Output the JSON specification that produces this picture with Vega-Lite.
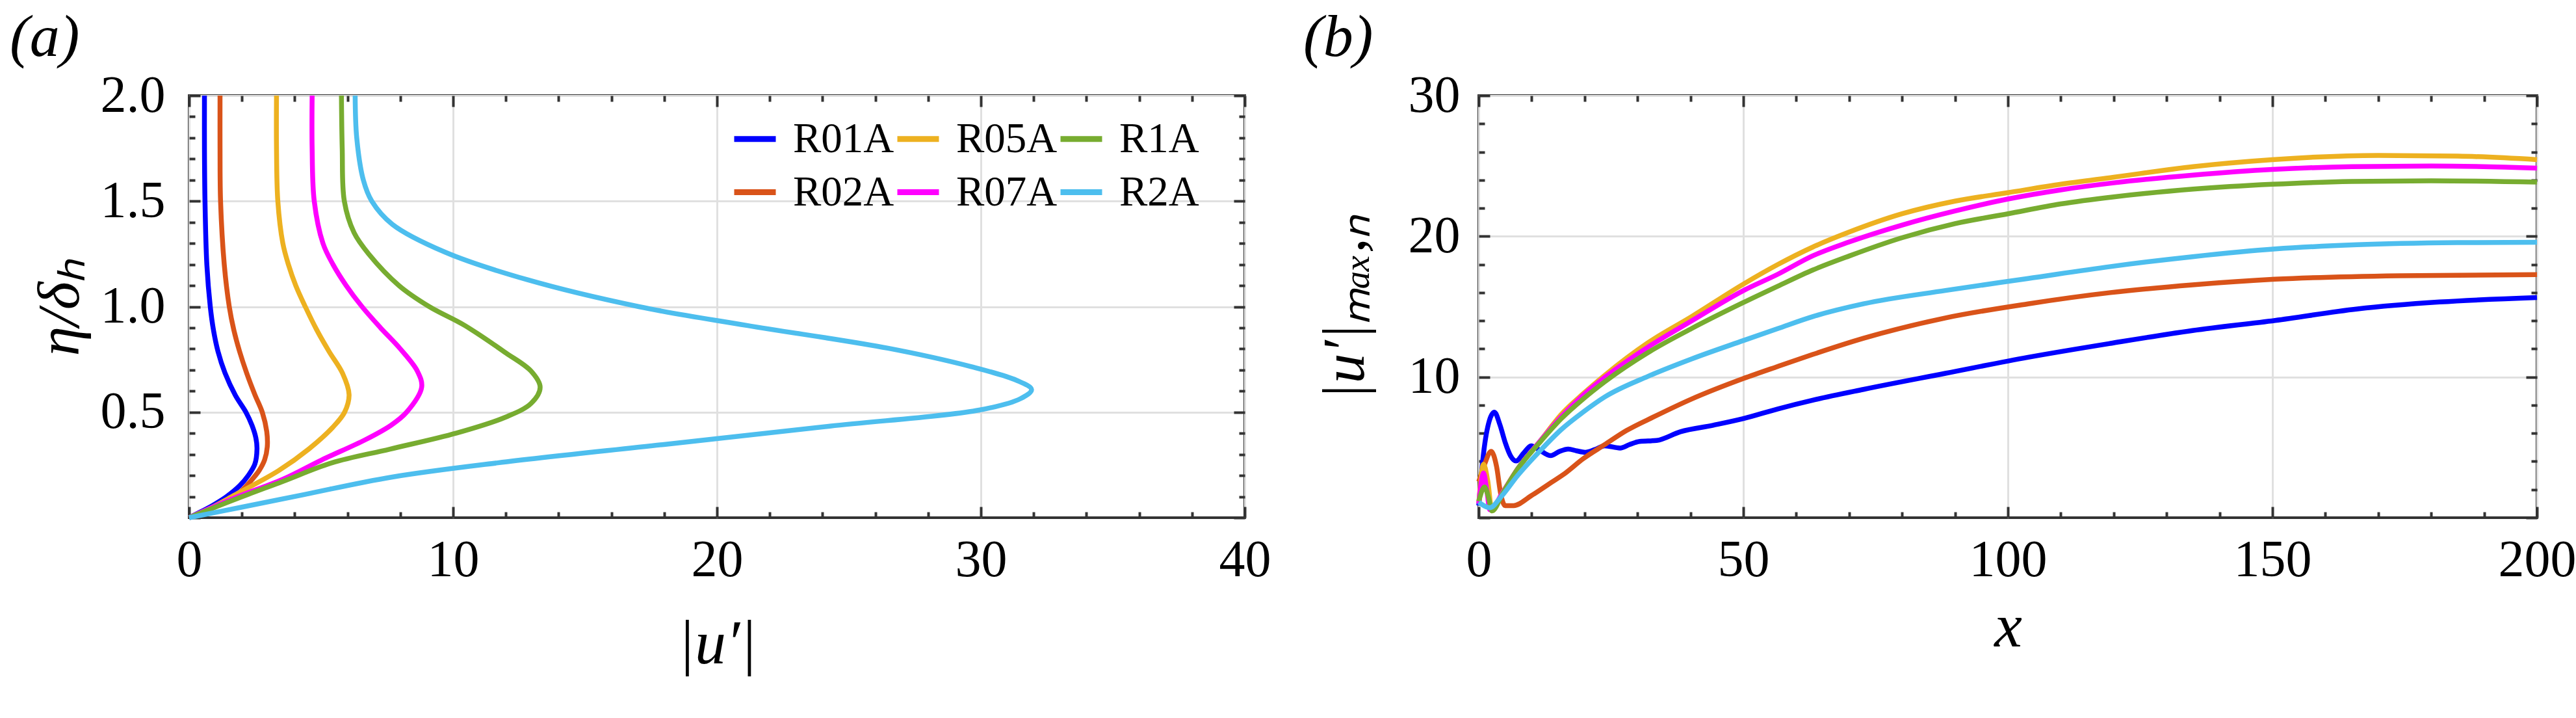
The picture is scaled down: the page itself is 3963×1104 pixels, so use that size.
{
"$schema": "https://vega.github.io/schema/vega-lite/v6.json",
"background": "white",
"padding": {"left": 13, "top": 10, "right": 0, "bottom": 0},
"spacing": 46,
"datasets": {
"prof": [
{"s":"R01A","eta":0,"u":0},{"s":"R01A","eta":0.028,"u":0.44},{"s":"R01A","eta":0.058,"u":0.89},{"s":"R01A","eta":0.1,"u":1.42},{"s":"R01A","eta":0.151,"u":1.91},{"s":"R01A","eta":0.2,"u":2.24},{"s":"R01A","eta":0.254,"u":2.49},{"s":"R01A","eta":0.326,"u":2.57},{"s":"R01A","eta":0.377,"u":2.53},{"s":"R01A","eta":0.438,"u":2.38},{"s":"R01A","eta":0.5,"u":2.15},{"s":"R01A","eta":0.58,"u":1.75},{"s":"R01A","eta":0.685,"u":1.36},{"s":"R01A","eta":0.789,"u":1.09},{"s":"R01A","eta":0.89,"u":0.92},{"s":"R01A","eta":1.0,"u":0.8},{"s":"R01A","eta":1.2,"u":0.67},{"s":"R01A","eta":1.5,"u":0.6},{"s":"R01A","eta":1.75,"u":0.58},{"s":"R01A","eta":2.0,"u":0.58},
{"s":"R02A","eta":0,"u":0},{"s":"R02A","eta":0.022,"u":0.44},{"s":"R02A","eta":0.058,"u":1.09},{"s":"R02A","eta":0.11,"u":1.83},{"s":"R02A","eta":0.172,"u":2.32},{"s":"R02A","eta":0.223,"u":2.65},{"s":"R02A","eta":0.274,"u":2.86},{"s":"R02A","eta":0.336,"u":2.96},{"s":"R02A","eta":0.408,"u":2.94},{"s":"R02A","eta":0.5,"u":2.77},{"s":"R02A","eta":0.583,"u":2.49},{"s":"R02A","eta":0.685,"u":2.18},{"s":"R02A","eta":0.788,"u":1.91},{"s":"R02A","eta":0.891,"u":1.69},{"s":"R02A","eta":1.0,"u":1.52},{"s":"R02A","eta":1.2,"u":1.33},{"s":"R02A","eta":1.5,"u":1.19},{"s":"R02A","eta":1.75,"u":1.17},{"s":"R02A","eta":2.0,"u":1.17},
{"s":"R05A","eta":0,"u":0},{"s":"R05A","eta":0.048,"u":0.85},{"s":"R05A","eta":0.12,"u":1.91},{"s":"R05A","eta":0.223,"u":3.39},{"s":"R05A","eta":0.326,"u":4.54},{"s":"R05A","eta":0.428,"u":5.44},{"s":"R05A","eta":0.5,"u":5.89},{"s":"R05A","eta":0.583,"u":6.06},{"s":"R05A","eta":0.685,"u":5.81},{"s":"R05A","eta":0.788,"u":5.3},{"s":"R05A","eta":0.891,"u":4.83},{"s":"R05A","eta":1.0,"u":4.4},{"s":"R05A","eta":1.1,"u":4.04},{"s":"R05A","eta":1.2,"u":3.76},{"s":"R05A","eta":1.3,"u":3.55},{"s":"R05A","eta":1.5,"u":3.36},{"s":"R05A","eta":1.75,"u":3.31},{"s":"R05A","eta":2.0,"u":3.31},
{"s":"R07A","eta":0,"u":0},{"s":"R07A","eta":0.05,"u":0.9},{"s":"R07A","eta":0.1,"u":1.85},{"s":"R07A","eta":0.182,"u":3.55},{"s":"R07A","eta":0.274,"u":5.03},{"s":"R07A","eta":0.369,"u":6.67},{"s":"R07A","eta":0.439,"u":7.66},{"s":"R07A","eta":0.5,"u":8.24},{"s":"R07A","eta":0.618,"u":8.81},{"s":"R07A","eta":0.694,"u":8.65},{"s":"R07A","eta":0.8,"u":8.0},{"s":"R07A","eta":0.9,"u":7.25},{"s":"R07A","eta":1.0,"u":6.55},{"s":"R07A","eta":1.1,"u":5.95},{"s":"R07A","eta":1.2,"u":5.45},{"s":"R07A","eta":1.3,"u":5.07},{"s":"R07A","eta":1.5,"u":4.74},{"s":"R07A","eta":1.75,"u":4.66},{"s":"R07A","eta":2.0,"u":4.66},
{"s":"R1A","eta":0,"u":0},{"s":"R1A","eta":0.08,"u":1.6},{"s":"R1A","eta":0.172,"u":3.55},{"s":"R1A","eta":0.26,"u":5.41},{"s":"R1A","eta":0.325,"u":7.61},{"s":"R1A","eta":0.401,"u":10.13},{"s":"R1A","eta":0.477,"u":12.0},{"s":"R1A","eta":0.542,"u":12.96},{"s":"R1A","eta":0.618,"u":13.3},{"s":"R1A","eta":0.694,"u":12.96},{"s":"R1A","eta":0.781,"u":12.0},{"s":"R1A","eta":0.911,"u":10.44},{"s":"R1A","eta":1.0,"u":9.1},{"s":"R1A","eta":1.1,"u":7.95},{"s":"R1A","eta":1.25,"u":6.8},{"s":"R1A","eta":1.35,"u":6.25},{"s":"R1A","eta":1.5,"u":5.88},{"s":"R1A","eta":1.75,"u":5.8},{"s":"R1A","eta":2.0,"u":5.77},
{"s":"R2A","eta":0,"u":0},{"s":"R2A","eta":0.05,"u":2.0},{"s":"R2A","eta":0.11,"u":4.37},{"s":"R2A","eta":0.192,"u":7.66},{"s":"R2A","eta":0.26,"u":11.7},{"s":"R2A","eta":0.347,"u":17.99},{"s":"R2A","eta":0.434,"u":24.28},{"s":"R2A","eta":0.51,"u":29.94},{"s":"R2A","eta":0.564,"u":31.5},{"s":"R2A","eta":0.607,"u":31.92},{"s":"R2A","eta":0.651,"u":31.35},{"s":"R2A","eta":0.716,"u":29.62},{"s":"R2A","eta":0.803,"u":26.48},{"s":"R2A","eta":0.911,"u":21.13},{"s":"R2A","eta":1.0,"u":17.04},{"s":"R2A","eta":1.128,"u":12.8},{"s":"R2A","eta":1.258,"u":9.7},{"s":"R2A","eta":1.39,"u":7.7},{"s":"R2A","eta":1.5,"u":6.92},{"s":"R2A","eta":1.6,"u":6.6},{"s":"R2A","eta":1.8,"u":6.35},{"s":"R2A","eta":2.0,"u":6.29}
],
"amp": [
{"s":"R01A","x":0,"v":0.86},{"s":"R01A","x":0.9,"v":4.57},{"s":"R01A","x":2.0,"v":6.9},{"s":"R01A","x":2.95,"v":7.5},{"s":"R01A","x":4.0,"v":6.6},{"s":"R01A","x":5.0,"v":5.34},{"s":"R01A","x":6.0,"v":4.4},{"s":"R01A","x":7.04,"v":4.03},{"s":"R01A","x":8.5,"v":4.6},{"s":"R01A","x":9.9,"v":5.11},{"s":"R01A","x":11.5,"v":4.8},{"s":"R01A","x":13.6,"v":4.41},{"s":"R01A","x":15.2,"v":4.7},{"s":"R01A","x":16.9,"v":4.88},{"s":"R01A","x":18.5,"v":4.75},{"s":"R01A","x":20.1,"v":4.65},{"s":"R01A","x":22,"v":4.85},{"s":"R01A","x":23.8,"v":5.11},{"s":"R01A","x":26.7,"v":4.95},{"s":"R01A","x":28.5,"v":5.2},{"s":"R01A","x":30.4,"v":5.42},{"s":"R01A","x":33.6,"v":5.49},{"s":"R01A","x":38.1,"v":6.11},{"s":"R01A","x":44.3,"v":6.57},{"s":"R01A","x":50,"v":7.04},{"s":"R01A","x":56.5,"v":7.73},{"s":"R01A","x":63.1,"v":8.35},{"s":"R01A","x":72.7,"v":9.12},{"s":"R01A","x":88.2,"v":10.26},{"s":"R01A","x":103.8,"v":11.4},{"s":"R01A","x":119.4,"v":12.39},{"s":"R01A","x":134.9,"v":13.3},{"s":"R01A","x":150.5,"v":14.02},{"s":"R01A","x":166.1,"v":14.84},{"s":"R01A","x":181.6,"v":15.33},{"s":"R01A","x":200,"v":15.65},
{"s":"R02A","x":0,"v":2.56},{"s":"R02A","x":1.1,"v":3.8},{"s":"R02A","x":2.33,"v":4.72},{"s":"R02A","x":3.36,"v":3.64},{"s":"R02A","x":4.17,"v":1.64},{"s":"R02A","x":5.0,"v":0.86},{"s":"R02A","x":6.6,"v":0.86},{"s":"R02A","x":9.9,"v":1.56},{"s":"R02A","x":13.6,"v":2.48},{"s":"R02A","x":16.4,"v":3.18},{"s":"R02A","x":19.7,"v":4.18},{"s":"R02A","x":23.8,"v":5.19},{"s":"R02A","x":27.9,"v":6.19},{"s":"R02A","x":33.2,"v":7.19},{"s":"R02A","x":40.2,"v":8.43},{"s":"R02A","x":50,"v":9.89},{"s":"R02A","x":56.5,"v":10.75},{"s":"R02A","x":63.1,"v":11.6},{"s":"R02A","x":72.7,"v":12.75},{"s":"R02A","x":88.2,"v":14.2},{"s":"R02A","x":103.8,"v":15.2},{"s":"R02A","x":119.4,"v":16.0},{"s":"R02A","x":134.9,"v":16.55},{"s":"R02A","x":150.5,"v":16.95},{"s":"R02A","x":173.9,"v":17.2},{"s":"R02A","x":200,"v":17.28},
{"s":"R05A","x":0,"v":1.0},{"s":"R05A","x":0.9,"v":3.8},{"s":"R05A","x":1.7,"v":2.6},{"s":"R05A","x":2.5,"v":0.48},{"s":"R05A","x":4.6,"v":1.85},{"s":"R05A","x":7.4,"v":3.5},{"s":"R05A","x":11.5,"v":5.4},{"s":"R05A","x":15.6,"v":7.35},{"s":"R05A","x":19.7,"v":8.8},{"s":"R05A","x":23.8,"v":10.12},{"s":"R05A","x":32,"v":12.44},{"s":"R05A","x":40.2,"v":14.29},{"s":"R05A","x":50,"v":16.6},{"s":"R05A","x":56.5,"v":17.99},{"s":"R05A","x":63.1,"v":19.23},{"s":"R05A","x":70,"v":20.3},{"s":"R05A","x":80,"v":21.6},{"s":"R05A","x":90,"v":22.5},{"s":"R05A","x":100,"v":23.1},{"s":"R05A","x":110,"v":23.7},{"s":"R05A","x":120,"v":24.2},{"s":"R05A","x":135,"v":24.95},{"s":"R05A","x":150,"v":25.45},{"s":"R05A","x":170,"v":25.75},{"s":"R05A","x":185,"v":25.7},{"s":"R05A","x":200,"v":25.45},
{"s":"R07A","x":0,"v":1.0},{"s":"R07A","x":0.9,"v":3.18},{"s":"R07A","x":1.5,"v":2.0},{"s":"R07A","x":2.1,"v":0.56},{"s":"R07A","x":4.6,"v":1.85},{"s":"R07A","x":7.4,"v":3.5},{"s":"R07A","x":11.5,"v":5.4},{"s":"R07A","x":15.6,"v":7.19},{"s":"R07A","x":19.7,"v":8.7},{"s":"R07A","x":23.8,"v":9.97},{"s":"R07A","x":32,"v":12.13},{"s":"R07A","x":40.2,"v":13.98},{"s":"R07A","x":50,"v":16.14},{"s":"R07A","x":56.5,"v":17.3},{"s":"R07A","x":63.1,"v":18.61},{"s":"R07A","x":70,"v":19.6},{"s":"R07A","x":80,"v":20.8},{"s":"R07A","x":90,"v":21.8},{"s":"R07A","x":100,"v":22.65},{"s":"R07A","x":110,"v":23.3},{"s":"R07A","x":120,"v":23.8},{"s":"R07A","x":135,"v":24.35},{"s":"R07A","x":150,"v":24.75},{"s":"R07A","x":165,"v":24.95},{"s":"R07A","x":180,"v":25.0},{"s":"R07A","x":200,"v":24.85},
{"s":"R1A","x":0,"v":1.17},{"s":"R1A","x":1.1,"v":2.18},{"s":"R1A","x":1.8,"v":1.5},{"s":"R1A","x":2.5,"v":0.48},{"s":"R1A","x":4.6,"v":1.79},{"s":"R1A","x":7.4,"v":3.49},{"s":"R1A","x":11.5,"v":5.34},{"s":"R1A","x":15.6,"v":7.04},{"s":"R1A","x":19.7,"v":8.43},{"s":"R1A","x":23.8,"v":9.66},{"s":"R1A","x":32,"v":11.74},{"s":"R1A","x":40.2,"v":13.44},{"s":"R1A","x":50,"v":15.29},{"s":"R1A","x":56.5,"v":16.45},{"s":"R1A","x":63.1,"v":17.6},{"s":"R1A","x":70,"v":18.6},{"s":"R1A","x":80,"v":19.9},{"s":"R1A","x":90,"v":20.9},{"s":"R1A","x":100,"v":21.6},{"s":"R1A","x":110,"v":22.3},{"s":"R1A","x":120,"v":22.8},{"s":"R1A","x":135,"v":23.35},{"s":"R1A","x":150,"v":23.7},{"s":"R1A","x":165,"v":23.9},{"s":"R1A","x":180,"v":23.95},{"s":"R1A","x":200,"v":23.85},
{"s":"R2A","x":0,"v":1.1},{"s":"R2A","x":2.1,"v":0.71},{"s":"R2A","x":4.2,"v":1.48},{"s":"R2A","x":7.4,"v":3.02},{"s":"R2A","x":11.5,"v":4.72},{"s":"R2A","x":15.6,"v":6.27},{"s":"R2A","x":19.7,"v":7.5},{"s":"R2A","x":23.8,"v":8.58},{"s":"R2A","x":32,"v":10.05},{"s":"R2A","x":40.2,"v":11.28},{"s":"R2A","x":50,"v":12.59},{"s":"R2A","x":56.5,"v":13.44},{"s":"R2A","x":63.1,"v":14.29},{"s":"R2A","x":72.7,"v":15.2},{"s":"R2A","x":88.2,"v":16.15},{"s":"R2A","x":103.8,"v":17.0},{"s":"R2A","x":119.4,"v":17.85},{"s":"R2A","x":134.9,"v":18.55},{"s":"R2A","x":150.5,"v":19.1},{"s":"R2A","x":166,"v":19.4},{"s":"R2A","x":185,"v":19.55},{"s":"R2A","x":200,"v":19.58}
]
},
"hconcat": [
{
"width": 1624, "height": 649,
"title": {"text": "(a)", "anchor": "start", "frame": "group", "font": "Liberation Serif", "fontSize": 92, "fontStyle": "italic", "fontWeight": "normal", "color": "#000000", "dx": -276, "dy": 130, "offset": 59, "baseline": "alphabetic"},
"data": {"name": "prof"},
"layer": [
{"mark": {"type": "line", "strokeWidth": 7.5, "interpolate": "catmull-rom"},
 "encoding": {
  "x": {"field": "u", "type": "quantitative", "scale": {"domain": [0, 40], "nice": false, "zero": false},
   "axis": {"orient": "bottom", "values": [0, 10, 20, 30, 40], "ticks": false, "domain": false, "grid": true, "gridColor": "#e0e0e0", "gridWidth": 3, "labelFontSize": 80, "labelPadding": 26, "labelColor": "#000000", "labelFlush": false, "labelOverlap": false, "title": "|u′|", "titleFontSize": 96, "titleFontStyle": "italic", "titleFontWeight": "normal", "titleColor": "#000000", "titlePadding": 42,
    "encode": {"labels": {"update": {"dx": {"signal": "datum.value === 0 ? -53 : 0"}}}}}},
  "y": {"field": "eta", "type": "quantitative", "scale": {"domain": [0, 2], "nice": false, "zero": false},
   "axis": {"orient": "left", "values": [0.5, 1, 1.5, 2], "format": ".1f", "ticks": false, "domain": false, "grid": true, "gridColor": "#e0e0e0", "gridWidth": 3, "labelFontSize": 80, "labelPadding": 37, "labelColor": "#000000", "labelFlush": false, "labelOverlap": false, "title": "η/δₕ", "titleFontSize": 92, "titleFontStyle": "italic", "titleFontWeight": "normal", "titleColor": "#000000", "titlePadding": 15}},
  "color": {"field": "s", "type": "nominal",
   "scale": {"domain": ["R01A", "R02A", "R05A", "R07A", "R1A", "R2A"], "range": ["#0000FF", "#D95319", "#EDB120", "#FF00FF", "#77AC30", "#4DBEEE"]},
   "legend": {"orient": "none", "legendX": 834, "legendY": 30, "columns": 3, "padding": 0, "symbolType": "stroke", "symbolSize": 4096, "symbolStrokeWidth": 9, "labelFont": "Liberation Serif", "labelFontSize": 65, "labelColor": "#000000", "labelOffset": 22, "labelLimit": 400, "columnPadding": -33, "rowPadding": 12, "title": null}},
  "order": {"field": "eta", "type": "quantitative"}
 }},
{"mark": {"type": "line", "opacity": 0},
 "encoding": {
  "x": {"field": "u", "type": "quantitative", "axis": {"orient": "bottom", "values": [0, 10, 20, 30, 40], "labels": false, "domain": false, "grid": false, "tickSize": -17, "tickWidth": 4, "tickColor": "#333333", "title": null}},
  "y": {"field": "eta", "type": "quantitative", "axis": {"orient": "left", "values": [0, 0.5, 1, 1.5, 2], "labels": false, "domain": false, "grid": false, "tickSize": -17, "tickWidth": 4, "tickColor": "#333333", "title": null}}
 }},
{"mark": {"type": "line", "opacity": 0},
 "encoding": {
  "x": {"field": "u", "type": "quantitative", "axis": {"orient": "bottom", "values": [2, 4, 6, 8, 12, 14, 16, 18, 22, 24, 26, 28, 32, 34, 36, 38], "labels": false, "domain": false, "grid": false, "tickSize": -9, "tickWidth": 4, "tickColor": "#333333", "title": null}},
  "y": {"field": "eta", "type": "quantitative", "axis": {"orient": "left", "values": [0.1, 0.2, 0.3, 0.4, 0.6, 0.7, 0.8, 0.9, 1.1, 1.2, 1.3, 1.4, 1.6, 1.7, 1.8, 1.9], "labels": false, "domain": false, "grid": false, "tickSize": -9, "tickWidth": 4, "tickColor": "#333333", "title": null}}
 }},
{"mark": {"type": "line", "opacity": 0},
 "encoding": {
  "x": {"field": "u", "type": "quantitative", "axis": {"orient": "top", "values": [0, 10, 20, 30, 40], "labels": false, "domain": false, "grid": false, "tickSize": -17, "tickWidth": 4, "tickColor": "#333333", "title": null}},
  "y": {"field": "eta", "type": "quantitative", "axis": {"orient": "right", "values": [0, 0.5, 1, 1.5, 2], "labels": false, "domain": false, "grid": false, "tickSize": -17, "tickWidth": 4, "tickColor": "#333333", "title": null}}
 }},
{"mark": {"type": "line", "opacity": 0},
 "encoding": {
  "x": {"field": "u", "type": "quantitative", "axis": {"orient": "top", "values": [2, 4, 6, 8, 12, 14, 16, 18, 22, 24, 26, 28, 32, 34, 36, 38], "labels": false, "domain": false, "grid": false, "tickSize": -9, "tickWidth": 4, "tickColor": "#333333", "title": null}},
  "y": {"field": "eta", "type": "quantitative", "axis": {"orient": "right", "values": [0.1, 0.2, 0.3, 0.4, 0.6, 0.7, 0.8, 0.9, 1.1, 1.2, 1.3, 1.4, 1.6, 1.7, 1.8, 1.9], "labels": false, "domain": false, "grid": false, "tickSize": -9, "tickWidth": 4, "tickColor": "#333333", "title": null}}
 }}
],
"resolve": {"axis": {"x": "independent", "y": "independent"}}
},
{
"width": 1628, "height": 649,
"title": {"text": "(b)", "anchor": "start", "frame": "group", "font": "Liberation Serif", "fontSize": 92, "fontStyle": "italic", "fontWeight": "normal", "color": "#000000", "dx": -270, "dy": 130, "offset": 59, "baseline": "alphabetic"},
"data": {"name": "amp"},
"layer": [
{"mark": {"type": "line", "strokeWidth": 7.5, "interpolate": "monotone"},
 "encoding": {
  "x": {"field": "x", "type": "quantitative", "scale": {"domain": [0, 200], "nice": false, "zero": false},
   "axis": {"orient": "bottom", "values": [0, 50, 100, 150, 200], "ticks": false, "domain": false, "grid": true, "gridColor": "#e0e0e0", "gridWidth": 3, "labelFontSize": 80, "labelPadding": 26, "labelColor": "#000000", "labelFlush": false, "labelOverlap": false, "title": "x", "titleFontSize": 96, "titleFontStyle": "italic", "titleFontWeight": "normal", "titleColor": "#000000", "titlePadding": 16,
    "encode": {"labels": {"update": {"dx": {"signal": "datum.value === 0 ? -49 : 0"}}}}}},
  "y": {"field": "v", "type": "quantitative", "scale": {"domain": [0, 30], "nice": false, "zero": false},
   "axis": {"orient": "left", "values": [10, 20, 30], "ticks": false, "domain": false, "grid": true, "gridColor": "#e0e0e0", "gridWidth": 3, "labelFontSize": 80, "labelPadding": 29, "labelColor": "#000000", "labelFlush": false, "labelOverlap": false, "title": "|u′|ₘₐₓ,ₙ", "titleFontSize": 92, "titleFontStyle": "italic", "titleFontWeight": "normal", "titleColor": "#000000", "titlePadding": 50}},
  "color": {"field": "s", "type": "nominal",
   "scale": {"domain": ["R01A", "R02A", "R05A", "R07A", "R1A", "R2A"], "range": ["#0000FF", "#D95319", "#EDB120", "#FF00FF", "#77AC30", "#4DBEEE"]},
   "legend": null}
 }},
{"mark": {"type": "line", "opacity": 0},
 "encoding": {
  "x": {"field": "x", "type": "quantitative", "axis": {"orient": "bottom", "values": [0, 50, 100, 150, 200], "labels": false, "domain": false, "grid": false, "tickSize": -17, "tickWidth": 4, "tickColor": "#333333", "title": null}},
  "y": {"field": "v", "type": "quantitative", "axis": {"orient": "left", "values": [0, 10, 20, 30], "labels": false, "domain": false, "grid": false, "tickSize": -17, "tickWidth": 4, "tickColor": "#333333", "title": null}}
 }},
{"mark": {"type": "line", "opacity": 0},
 "encoding": {
  "x": {"field": "x", "type": "quantitative", "axis": {"orient": "bottom", "values": [10, 20, 30, 40, 60, 70, 80, 90, 110, 120, 130, 140, 160, 170, 180, 190], "labels": false, "domain": false, "grid": false, "tickSize": -9, "tickWidth": 4, "tickColor": "#333333", "title": null}},
  "y": {"field": "v", "type": "quantitative", "axis": {"orient": "left", "values": [2, 4, 6, 8, 12, 14, 16, 18, 22, 24, 26, 28], "labels": false, "domain": false, "grid": false, "tickSize": -9, "tickWidth": 4, "tickColor": "#333333", "title": null}}
 }},
{"mark": {"type": "line", "opacity": 0},
 "encoding": {
  "x": {"field": "x", "type": "quantitative", "axis": {"orient": "top", "values": [0, 50, 100, 150, 200], "labels": false, "domain": false, "grid": false, "tickSize": -17, "tickWidth": 4, "tickColor": "#333333", "title": null}},
  "y": {"field": "v", "type": "quantitative", "axis": {"orient": "right", "values": [0, 10, 20, 30], "labels": false, "domain": false, "grid": false, "tickSize": -17, "tickWidth": 4, "tickColor": "#333333", "title": null}}
 }},
{"mark": {"type": "line", "opacity": 0},
 "encoding": {
  "x": {"field": "x", "type": "quantitative", "axis": {"orient": "top", "values": [10, 20, 30, 40, 60, 70, 80, 90, 110, 120, 130, 140, 160, 170, 180, 190], "labels": false, "domain": false, "grid": false, "tickSize": -9, "tickWidth": 4, "tickColor": "#333333", "title": null}},
  "y": {"field": "v", "type": "quantitative", "axis": {"orient": "right", "values": [2, 4, 6, 8, 12, 14, 16, 18, 22, 24, 26, 28], "labels": false, "domain": false, "grid": false, "tickSize": -9, "tickWidth": 4, "tickColor": "#333333", "title": null}}
 }}
],
"resolve": {"axis": {"x": "independent", "y": "independent"}}
}
],
"resolve": {"scale": {"color": "independent"}},
"config": {
 "font": "Liberation Serif",
 "view": {"stroke": "#333333", "strokeWidth": 4},
 "axis": {"labelFont": "Liberation Serif", "titleFont": "Liberation Serif"}
}
}
